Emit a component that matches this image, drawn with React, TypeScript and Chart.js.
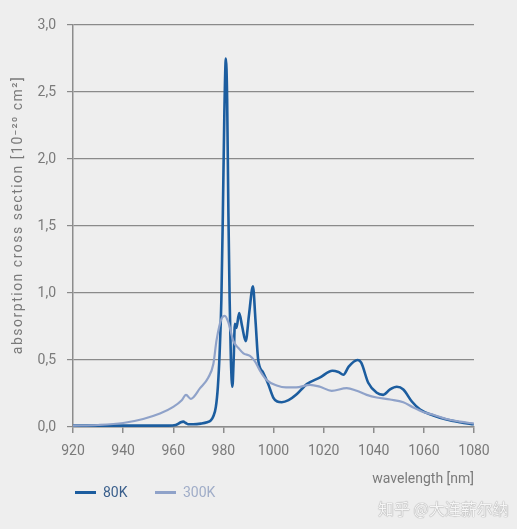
import { useEffect, useRef } from 'react';
import { Chart, registerables } from 'chart.js';

Chart.register(...registerables);

// 80 K absorption cross section (wavelength in nm, value in 10^-20 cm^2)
const wavelengths80K = [
    920, 930, 940, 950, 958, 961, 963, 964, 965, 966, 968, 971, 973.5, 975, 976, 977, 977.8, 978.5,
    979.2, 979.8, 980.4, 981.0, 981.5, 982.0, 982.5, 983.0, 983.6, 984.1, 984.6, 985.2, 986.3, 987.5,
    988.9, 990.3, 991.8, 992.8, 993.9, 995.9, 997.9, 999.9, 1001.5, 1003.3, 1006, 1009, 1013.3, 1018.6,
    1023.5, 1025.9, 1027.9, 1030, 1033.5, 1035, 1037.8, 1041.2, 1043.8, 1046.5, 1049.2, 1051.8, 1055.2,
    1058.5, 1063.8, 1069, 1074.4, 1080,
];
const values80K = [
    0.01, 0.01, 0.01, 0.01, 0.01, 0.015, 0.035, 0.04, 0.03, 0.02, 0.02, 0.025, 0.035, 0.05, 0.08, 0.15, 0.3, 0.55,
    0.95, 1.6, 2.35, 2.75, 2.45, 1.6, 0.95, 0.5, 0.3, 0.5, 0.77, 0.74, 0.85, 0.75,
    0.64, 0.85, 1.05, 0.8, 0.5, 0.405, 0.32, 0.22, 0.19, 0.185, 0.2, 0.24, 0.32, 0.37,
    0.42, 0.41, 0.39, 0.45, 0.5, 0.48, 0.33, 0.255, 0.24, 0.28, 0.3, 0.28, 0.19,
    0.13, 0.086, 0.056, 0.036, 0.02,
];

// 300 K absorption cross section
const wavelengths300K = [
    920, 930, 940, 948, 954.7, 960, 963.4, 965.1, 967, 970.7, 974, 976, 977.3, 979.3, 980.6, 982, 984,
    986, 988, 990.6, 992.6, 994.6, 997.3, 1001.3, 1005, 1009, 1014.6, 1018.6, 1023.2, 1029.2, 1033.2,
    1037.2, 1041.2, 1046.5, 1051.8, 1055.8, 1060, 1064, 1069, 1074.4, 1080,
];
const values300K = [
    0.01, 0.015, 0.03, 0.06, 0.1, 0.15, 0.2, 0.24, 0.21, 0.29, 0.37, 0.47, 0.65, 0.81, 0.83, 0.78, 0.64,
    0.59, 0.55, 0.53, 0.49, 0.42, 0.35, 0.31, 0.295, 0.295, 0.315, 0.3, 0.27, 0.29, 0.27,
    0.24, 0.22, 0.205, 0.185, 0.145, 0.11, 0.09, 0.06, 0.04, 0.025,
];

const seriesNames = ['80K', '300K'];
const seriesColors = ['#1c5d9f', '#8fa2c9'];
const legendTextColors = ['#3a5f8c', '#a0adc8'];

const xTicks = [920, 940, 960, 980, 1000, 1020, 1040, 1060, 1080];
const xTickLabels = ['920', '940', '960', '980', '1000', '1020', '1040', '1060', '1080'];
const yTicks = [0, 0.5, 1.0, 1.5, 2.0, 2.5, 3.0];
const yTickLabels = ['0,0', '0,5', '1,0', '1,5', '2,0', '2,5', '3,0'];

const FONT = 'Roboto, "DejaVu Sans", sans-serif';

export default function App() {
    const chartRef = useRef<HTMLCanvasElement>(null);
    const chartInstance = useRef<Chart | null>(null);

    useEffect(() => {
        document.body.style.margin = '0';
        document.body.style.background = '#eeeeee';
        if (!chartRef.current) return;
        const ctx = chartRef.current.getContext('2d');
        if (!ctx) return;
        if (chartInstance.current) chartInstance.current.destroy();

        const toPoints = (xs: number[], ys: number[]) => xs.map((x, i) => ({ x, y: ys[i] }));

        chartInstance.current = new Chart(ctx, {
            type: 'line',
            data: {
                datasets: [
                    {
                        label: seriesNames[1],
                        data: toPoints(wavelengths300K, values300K),
                        borderColor: seriesColors[1],
                        borderWidth: 2.2,
                        pointRadius: 0,
                        cubicInterpolationMode: 'monotone',
                    },
                    {
                        label: seriesNames[0],
                        data: toPoints(wavelengths80K, values80K),
                        borderColor: seriesColors[0],
                        borderWidth: 2.6,
                        pointRadius: 0,
                        cubicInterpolationMode: 'monotone',
                    },
                ],
            },
            options: {
                responsive: true,
                maintainAspectRatio: false,
                animation: false,
                layout: { padding: { left: 0, top: 25, right: 43, bottom: 41 } },
                plugins: {
                    legend: { display: false },
                    tooltip: { enabled: false },
                },
                scales: {
                    x: {
                        type: 'linear',
                        min: xTicks[0],
                        max: xTicks[xTicks.length - 1],
                        afterFit: (scale) => { scale.height = 61; },
                        afterBuildTicks: (scale) => { scale.ticks = xTicks.map((v) => ({ value: v })); },
                        border: { color: '#8c8c8c', width: 1.5 },
                        grid: { drawOnChartArea: false, drawTicks: true, tickLength: 6, color: '#8c8c8c', lineWidth: 1.5 },
                        ticks: {
                            color: '#7a7a7a',
                            padding: 10,
                            maxRotation: 0,
                            font: { family: FONT, size: 14 },
                            callback: (value) => xTickLabels[xTicks.indexOf(Number(value))] ?? '',
                        },
                        title: {
                            display: true,
                            text: 'wavelength [nm]',
                            align: 'end',
                            color: '#7a7a7a',
                            padding: { top: 0, bottom: 0 },
                            font: { family: FONT, size: 14 },
                        },
                    },
                    y: {
                        min: yTicks[0],
                        max: yTicks[yTicks.length - 1],
                        afterFit: (scale) => {
                            scale.width = 73;
                            // the reference title is letter-spaced and sits a bit above centre
                            const s = scale as any;
                            if (!s._spacedTitle) {
                                const orig = s.drawTitle.bind(s);
                                s.drawTitle = () => {
                                    const c = s.ctx as CanvasRenderingContext2D;
                                    c.save();
                                    (c as any).letterSpacing = '1.5px';
                                    c.translate(0, -11);
                                    orig();
                                    c.restore();
                                };
                                s._spacedTitle = true;
                            }
                        },
                        afterBuildTicks: (scale) => { scale.ticks = yTicks.map((v) => ({ value: v })); },
                        border: { color: '#8c8c8c', width: 1.5 },
                        grid: { color: '#8a8a8a', lineWidth: 1.2, tickLength: 6 },
                        ticks: {
                            color: '#7a7a7a',
                            padding: 11,
                            font: { family: FONT, size: 14 },
                            callback: (value) => yTickLabels[yTicks.indexOf(Number(value))] ?? '',
                        },
                        title: {
                            display: true,
                            text: 'absorption cross section [10⁻²⁰ cm²]',
                            color: '#7a7a7a',
                            padding: { top: 10, bottom: 0 },
                            font: { family: FONT, size: 14 },
                        },
                    },
                },
            },
        });

        return () => {
            if (chartInstance.current) {
                chartInstance.current.destroy();
                chartInstance.current = null;
            }
        };
    }, []);

    return (
        <div style={{ position: 'relative', width: 517, height: 529, background: '#eeeeee', fontFamily: FONT }}>
            <canvas ref={chartRef}></canvas>
            {/* legend */}
            {seriesNames.map((name, i) => (
                <div
                    key={name}
                    style={{
                        position: 'absolute',
                        left: i === 0 ? 75 : 155,
                        top: 484,
                        display: 'flex',
                        alignItems: 'center',
                        fontSize: 14,
                        color: legendTextColors[i],
                    }}
                >
                    <span style={{ display: 'inline-block', width: 21, height: 3, background: seriesColors[i], marginRight: 7 }} />
                    <span>{name}</span>
                </div>
            ))}
            <div
                style={{
                    position: 'absolute',
                    left: 378,
                    top: 496,
                    fontSize: 16,
                    fontFamily: '"Noto Sans CJK SC", sans-serif',
                    color: '#f6f6f6',
                    textShadow: '0 0 1px #9a9a9a, 0 0 1px #9a9a9a',
                    whiteSpace: 'nowrap',
                }}
            >
                知乎 @大连薪尔纳
            </div>
        </div>
    );
}
